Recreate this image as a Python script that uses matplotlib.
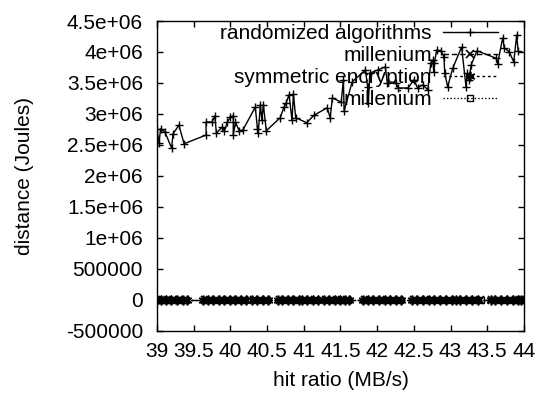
import matplotlib
matplotlib.use("Agg")
import matplotlib.pyplot as plt
from matplotlib.ticker import MultipleLocator, FuncFormatter

plt.rcParams['font.family'] = ['Liberation Sans', 'DejaVu Sans']

# randomized algorithms
ra_x = [39.00, 39.03, 39.05, 39.11, 39.20, 39.22, 39.30, 39.37, 39.67, 39.67,
        39.75, 39.79, 39.81, 39.89, 39.92, 39.96, 40.00, 40.04, 40.04, 40.07,
        40.12, 40.17, 40.34, 40.37, 40.38, 40.41, 40.43, 40.45, 40.49, 40.68,
        40.73, 40.76, 40.80, 40.84, 40.86, 40.89, 41.04, 41.14, 41.32, 41.36,
        41.39, 41.51, 41.54, 41.55, 41.66, 41.84, 41.87, 41.88, 41.90, 42.01,
        42.11, 42.14, 42.25, 42.29, 42.42, 42.50, 42.55, 42.62, 42.69, 42.73,
        42.76, 42.77, 42.78, 42.81, 42.87, 42.91, 42.92, 42.96, 43.03, 43.15,
        43.21, 43.23, 43.25, 43.28, 43.36, 43.62, 43.64, 43.71, 43.73, 43.80,
        43.86, 43.90, 43.92]
ra_y = [2.76, 2.53, 2.76, 2.71, 2.45, 2.68, 2.82, 2.52, 2.66, 2.87,
        2.87, 2.97, 2.69, 2.79, 2.73, 2.87, 2.95, 2.97, 2.66, 2.87,
        2.73, 2.74, 3.11, 2.76, 2.69, 3.15, 2.90, 3.15, 2.73, 2.94,
        3.11, 3.18, 3.31, 2.90, 3.32, 2.94, 2.86, 2.98, 3.10, 2.94,
        3.26, 3.19, 3.55, 3.05, 3.52, 3.71, 3.44, 3.18, 3.66, 3.71,
        3.76, 3.50, 3.50, 3.42, 3.42, 3.55, 3.42, 3.47, 3.39, 3.82,
        3.87, 3.68, 3.82, 4.03, 4.02, 3.92, 3.66, 3.44, 3.74, 4.08,
        3.44, 3.66, 3.55, 3.79, 4.02, 3.90, 3.81, 4.23, 4.07, 4.00,
        3.84, 4.27, 4.02]
ra_y = [v * 1e6 for v in ra_y]

# millenium
m1_x = [39.02, 39.08, 39.15, 39.22, 39.30, 39.38, 39.65, 39.72, 39.80, 39.88,
        39.95, 40.03, 40.10, 40.18, 40.32, 40.40, 40.48, 40.67, 40.75, 40.83,
        40.90, 41.00, 41.08, 41.16, 41.30, 41.38, 41.45, 41.52, 41.59, 41.83,
        41.90, 41.98, 42.06, 42.14, 42.22, 42.30, 42.50, 42.58, 42.66, 42.74,
        42.82, 42.90, 42.98, 43.09, 43.17, 43.25, 43.33, 43.40, 43.57, 43.65,
        43.73, 43.81, 43.89, 43.95]
m1_y = [0] * len(m1_x)

# symmetric encryption
se_x = [39.00, 39.05, 39.12, 39.19, 39.27, 39.35, 39.41, 39.63, 39.69, 39.77,
        39.84, 39.92, 40.00, 40.07, 40.14, 40.22, 40.30, 40.36, 40.44, 40.51,
        40.65, 40.71, 40.79, 40.86, 40.93, 40.98, 41.04, 41.12, 41.19, 41.28,
        41.34, 41.42, 41.49, 41.56, 41.61, 41.81, 41.87, 41.94, 42.02, 42.10,
        42.18, 42.26, 42.32, 42.48, 42.54, 42.62, 42.70, 42.78, 42.86, 42.94,
        43.02, 43.07, 43.13, 43.21, 43.29, 43.37, 43.55, 43.61, 43.69, 43.77,
        43.85, 43.92, 43.96]
se_y = [0] * len(se_x)

# millenium (second)
m2_x = [39.04, 39.11, 39.18, 39.26, 39.33, 39.40, 39.67, 39.75, 39.82, 39.90,
        39.98, 40.05, 40.13, 40.20, 40.34, 40.42, 40.50, 40.69, 40.77, 40.85,
        40.92, 41.02, 41.10, 41.18, 41.32, 41.40, 41.46, 41.54, 41.60, 41.85,
        41.92, 42.00, 42.08, 42.16, 42.24, 42.31, 42.52, 42.60, 42.68, 42.76,
        42.84, 42.92, 43.00, 43.10, 43.19, 43.27, 43.35, 43.41, 43.59, 43.67,
        43.75, 43.83, 43.90, 43.94]
m2_y = [0] * len(m2_x)

fig = plt.figure(figsize=(5.41, 3.94), dpi=100)
ax = fig.add_axes([0.290, 0.160, 0.6786, 0.7867])

ax.plot(ra_x, ra_y, color='black', lw=1, marker='+', ms=6, mew=1,
        label='randomized algorithms', zorder=4)
ax.plot(m1_x, m1_y, color='black', lw=1, ls=(0, (4, 2)), marker='x', ms=6,
        mew=1.2, label='millenium', zorder=3)
ax.plot(se_x, se_y, color='black', lw=1, ls=(0, (2, 2)), marker=(6, 2, 0),
        ms=7, mew=1.2, label='symmetric encryption', zorder=3)
ax.plot(m2_x, m2_y, color='black', lw=1, ls=(0, (1, 1.5)), marker='s', ms=5,
        mew=1, mfc='none', label='millenium', zorder=2)

ax.set_xlim(39, 44)
ax.set_ylim(-500000, 4500000)
ax.xaxis.set_major_locator(MultipleLocator(0.5))
ax.yaxis.set_major_locator(MultipleLocator(500000))
ax.xaxis.set_major_formatter(FuncFormatter(lambda v, p: '%g' % v))
ax.yaxis.set_major_formatter(FuncFormatter(lambda v, p: '%g' % v))
ax.tick_params(direction='in', length=4, width=1, top=True, right=True,
               labelsize=15)
ax.tick_params(axis='x', pad=8)
ax.tick_params(axis='y', pad=10)
for s in ax.spines.values():
    s.set_linewidth(1)

ax.set_xlabel('hit ratio (MB/s)', fontsize=15)
ax.set_ylabel('distance (Joules)', fontsize=15)
ax.xaxis.set_label_coords(0.5, -0.13)
ax.yaxis.set_label_coords(-0.335, 0.5)

ax.legend(loc='upper right', bbox_to_anchor=(0.929, 0.99), frameon=False,
          markerfirst=False, numpoints=1, fontsize=15, handlelength=2.64,
          handletextpad=0.53, labelspacing=0.14, borderpad=0, borderaxespad=0)

fig.savefig('out.png', dpi=100)
